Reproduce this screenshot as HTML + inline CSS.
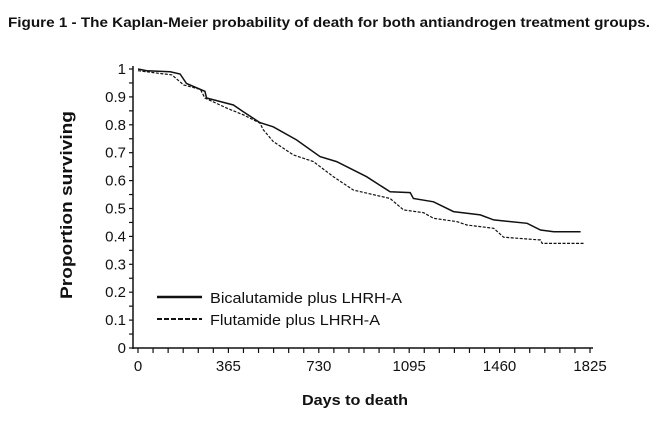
<!DOCTYPE html>
<html><head><meta charset="utf-8"><style>
body{margin:0;background:#fff;}
svg text{font-family:"Liberation Sans",sans-serif;fill:#111;}
</style></head><body>
<svg width="658" height="424" viewBox="0 0 658 424">
<text x="8" y="27" font-size="14" font-weight="bold" textLength="642" lengthAdjust="spacingAndGlyphs">Figure 1 - The Kaplan-Meier probability of death for both antiandrogen treatment groups.</text>
<g id="axes"></g>
<g id="series"></g>
<text x="355" y="405" font-size="15" font-weight="bold" text-anchor="middle" textLength="106" lengthAdjust="spacingAndGlyphs">Days to death</text>
<text transform="translate(72,205) rotate(-90)" font-size="17" font-weight="bold" text-anchor="middle" textLength="188" lengthAdjust="spacingAndGlyphs">Proportion surviving</text>
<line x1="157" y1="297" x2="202" y2="297" stroke="#111" stroke-width="2.5"/>
<text x="210" y="303" font-size="15" textLength="192" lengthAdjust="spacingAndGlyphs">Bicalutamide plus LHRH-A</text>
<line x1="157" y1="319" x2="202" y2="319" stroke="#111" stroke-width="2" stroke-dasharray="5,2"/>
<text x="210" y="325" font-size="15" textLength="170" lengthAdjust="spacingAndGlyphs">Flutamide plus LHRH-A</text>
</svg>
<script>
const xTicks=[0,365,730,1095,1460,1825];
const yTicks=[0,0.1,0.2,0.3,0.4,0.5,0.6,0.7,0.8,0.9,1];
const bicDays=[0,35,130,170,196,270,277,385,425,492,546,640,735,802,923,1018,1099,1112,1193,1274,1382,1436,1571,1625,1679,1787];
const bicVals=[1.0,0.994,0.99,0.982,0.948,0.92,0.896,0.871,0.847,0.808,0.793,0.746,0.686,0.668,0.614,0.56,0.557,0.536,0.524,0.489,0.477,0.459,0.447,0.423,0.417,0.417];
const fluDays=[0,35,137,184,252,270,358,425,492,506,546,627,708,789,870,1018,1072,1153,1193,1287,1328,1436,1476,1625,1632,1800];
const fluVals=[0.994,0.99,0.979,0.943,0.927,0.896,0.86,0.836,0.806,0.782,0.74,0.692,0.668,0.614,0.566,0.536,0.495,0.485,0.465,0.453,0.441,0.429,0.397,0.387,0.375,0.375];
const NS="http://www.w3.org/2000/svg";
const X0=138,X1=590,Y0=348,Y1=69,AX=133;
const xs=d=>X0+d/1825*(X1-X0);
const ys=v=>Y0-v*(Y0-Y1);
function mk(t,a,p){const e=document.createElementNS(NS,t);for(const k in a)e.setAttribute(k,a[k]);p.appendChild(e);return e;}
const ax=document.getElementById('axes');
let e=mk('line',{x1:AX,y1:Y1-3,x2:AX,y2:Y0+1,stroke:'#111','stroke-width':1.5},ax);


e=mk('line',{x1:AX,y1:Y0,x2:X1+3,y2:Y0,stroke:'#111','stroke-width':1.5},ax);


for(let i=0;i<=20;i++){const y=ys(i*0.05);e=mk('line',{x1:AX-4,y1:y,x2:AX,y2:y,stroke:'#111','stroke-width':1.2},ax);

}
yTicks.forEach(v=>{e=mk('text',{x:AX-7,y:ys(v)+5,'font-size':15,'text-anchor':'end'},ax);e.textContent=String(v);

});
for(let i=0;i<=30;i++){const x=xs(i*1825/30);e=mk('line',{x1:x,y1:Y0,x2:x,y2:Y0+5,stroke:'#111','stroke-width':1.2},ax);

}
xTicks.forEach(v=>{e=mk('text',{x:xs(v),y:Y0+23,'font-size':15,'text-anchor':'middle'},ax);e.textContent=String(v);

});
const sg=document.getElementById('series');
function pts(d,v){return d.map((x,i)=>xs(x).toFixed(1)+','+ys(v[i]).toFixed(1)).join(' ');}
e=mk('polyline',{points:pts(bicDays,bicVals),fill:'none',stroke:'#111','stroke-width':1.5},sg);


e=mk('polyline',{points:pts(fluDays,fluVals),fill:'none',stroke:'#111','stroke-width':1.2,'stroke-dasharray':'3,1.5'},sg);


</script>
</body></html>
